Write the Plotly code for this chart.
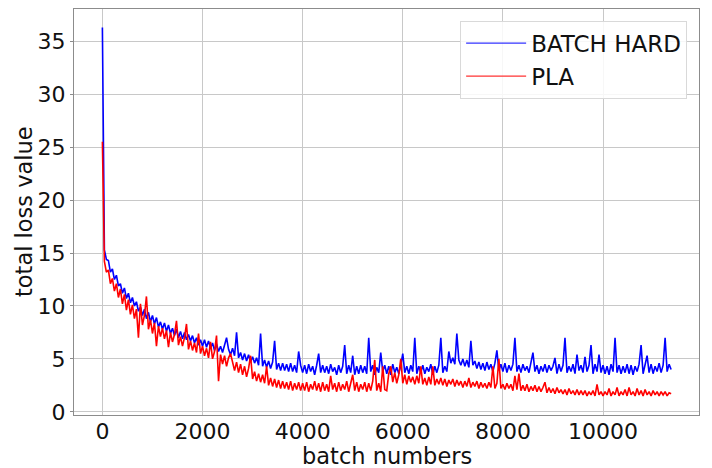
import plotly.graph_objects as go

# batch index sampled every 40 batches
batch = list(range(0, 11361, 40))

batch_hard = [
    36.3, 15.3, 14.4, 14.3, 13.2, 13.5, 12.5, 12.9, 11.9, 12.1,
    11.2, 11.7, 10.7, 11.2, 10.3, 10.8, 10.0, 10.4, 9.5, 9.9,
    9.1, 9.7, 8.8, 9.4, 8.5, 9.1, 8.3, 8.9, 8.0, 8.5,
    7.8, 8.4, 7.6, 8.2, 7.4, 7.9, 7.2, 7.8, 7.0, 7.6,
    6.9, 7.5, 6.8, 7.3, 6.7, 7.2, 6.5, 7.0, 6.3, 6.8,
    6.2, 6.8, 6.1, 6.7, 6.0, 6.5, 5.8, 6.4, 5.7, 6.2,
    5.6, 6.2, 7.0, 5.9, 5.4, 6.0, 5.3, 7.5, 5.1, 5.6,
    4.9, 5.5, 4.8, 5.4, 4.7, 5.2, 4.6, 5.1, 4.4, 7.4,
    4.3, 4.9, 4.2, 4.8, 4.1, 4.7, 6.7, 4.0, 4.6, 3.9,
    4.6, 3.9, 4.5, 3.8, 4.6, 3.8, 4.4, 3.7, 5.7, 4.4,
    3.7, 4.4, 3.6, 4.5, 3.8, 4.3, 3.5, 4.4, 5.5, 3.7,
    4.4, 3.7, 4.3, 3.6, 4.5, 3.8, 4.2, 3.5, 4.4, 3.7,
    4.3, 6.3, 3.6, 4.4, 3.7, 5.3, 3.5, 4.3, 3.6, 4.4,
    3.7, 4.3, 3.6, 7.0, 3.8, 4.4, 3.5, 4.2, 3.7, 5.6,
    3.8, 4.4, 3.6, 4.3, 3.5, 4.5, 3.7, 4.2, 3.6, 4.4,
    5.5, 3.7, 4.3, 3.6, 4.4, 3.8, 7.0, 3.6, 4.3, 3.7,
    4.4, 3.6, 4.2, 3.8, 4.5, 3.5, 4.3, 3.7, 4.4, 7.0,
    3.7, 4.3, 3.8, 5.7, 4.6, 5.1, 4.5, 7.4, 4.9, 4.4,
    5.0, 4.3, 4.9, 4.2, 6.7, 4.4, 4.8, 4.1, 4.7, 4.0,
    4.6, 3.9, 4.7, 4.0, 4.5, 3.8, 4.6, 5.8, 3.9, 4.5,
    3.8, 4.6, 3.7, 4.4, 3.9, 4.5, 7.0, 3.8, 4.4, 3.7,
    4.5, 3.9, 4.3, 3.7, 4.6, 5.6, 3.8, 4.4, 3.6, 4.3,
    3.8, 4.5, 3.7, 4.4, 3.9, 4.3, 5.1, 3.6, 4.5, 3.8,
    4.4, 7.0, 3.7, 4.3, 3.8, 4.5, 3.6, 5.4, 3.9, 4.4,
    3.7, 5.2, 3.8, 4.4, 6.3, 3.6, 4.5, 3.8, 5.4, 3.7,
    4.4, 3.6, 4.3, 3.5, 4.5, 3.8, 7.0, 3.7, 4.4, 3.6,
    4.3, 3.7, 4.5, 3.6, 4.4, 3.5, 4.3, 3.8, 4.5, 6.3,
    3.6, 4.4, 5.3, 3.7, 4.5, 3.6, 4.3, 3.8, 4.6, 3.7,
    4.4, 7.0, 3.8, 4.5, 4.0,
]

pla = [
    25.5, 14.2, 13.2, 13.4, 12.1, 12.6, 11.4, 12.1, 10.8, 11.6,
    10.2, 11.1, 9.6, 10.6, 9.2, 10.1, 8.8, 9.7, 7.0, 10.2,
    8.2, 9.1, 10.9, 7.8, 8.7, 7.4, 8.4, 6.2, 8.1, 7.1,
    7.9, 6.9, 7.7, 6.1, 7.5, 6.6, 7.3, 8.6, 6.3, 7.1,
    6.2, 7.0, 8.3, 5.9, 6.7, 5.8, 6.5, 5.6, 7.4, 5.5,
    6.2, 5.3, 6.0, 5.1, 6.6, 5.0, 5.7, 7.2, 2.9, 5.4,
    4.5, 5.3, 4.3, 5.1, 5.5, 4.7, 3.9, 4.7, 3.7, 4.5,
    3.5, 4.3, 3.3, 4.1, 5.3, 3.1, 3.8, 2.9, 3.6, 2.8,
    3.5, 2.7, 4.3, 2.5, 3.2, 2.4, 3.1, 2.3, 3.0, 2.2,
    2.9, 2.2, 2.8, 2.1, 2.9, 2.0, 2.7, 2.1, 2.8, 2.0,
    2.7, 2.0, 2.8, 1.9, 2.6, 2.1, 2.9, 2.0, 2.7, 1.9,
    2.8, 2.0, 2.6, 1.9, 3.4, 2.1, 2.7, 1.9, 2.8, 2.0,
    2.6, 2.1, 2.9, 1.9, 2.7, 3.5, 2.0, 2.8, 1.9, 2.6,
    2.1, 2.8, 1.9, 2.7, 2.0, 2.9, 4.9, 2.0, 2.7, 1.9,
    4.3, 2.1, 2.0, 3.6, 4.3, 2.8, 3.7, 2.7, 3.5, 5.0,
    2.7, 3.5, 2.6, 3.4, 2.8, 3.3, 2.6, 3.4, 2.7, 4.3,
    2.6, 3.2, 2.5, 3.3, 2.6, 4.3, 2.5, 3.1, 2.6, 3.2,
    2.5, 3.1, 2.4, 3.0, 2.6, 3.1, 2.4, 3.0, 2.5, 2.9,
    2.3, 2.9, 2.4, 3.2, 2.3, 2.8, 2.4, 2.9, 2.2, 2.8,
    2.3, 2.7, 2.2, 2.8, 2.3, 4.3, 2.2, 2.7, 5.0, 2.2,
    2.6, 2.1, 2.7, 2.2, 2.6, 2.0, 3.4, 2.1, 3.6, 2.0,
    2.5, 2.0, 2.6, 1.9, 2.4, 2.0, 2.5, 1.9, 2.4, 1.9,
    2.3, 2.8, 1.8, 2.3, 1.8, 2.2, 1.7, 2.3, 1.8, 2.1,
    1.7, 2.1, 1.6, 2.2, 1.7, 2.0, 1.6, 2.1, 1.6, 2.0,
    1.6, 2.0, 1.5, 1.9, 1.6, 2.0, 1.5, 2.6, 1.6, 1.9,
    1.5, 1.9, 1.6, 2.2, 1.5, 1.9, 1.6, 2.3, 1.5, 1.9,
    1.6, 2.1, 1.5, 2.3, 1.6, 1.9, 1.5, 2.2, 1.6, 2.0,
    1.5, 2.1, 1.6, 1.9, 1.5, 2.0, 1.6, 1.9, 1.5, 1.9,
    1.6, 1.9, 1.5, 1.8, 1.7,
]

x_ticks = [0, 2000, 4000, 6000, 8000, 10000]
y_ticks = [0, 5, 10, 15, 20, 25, 30, 35]

FONT = "DejaVu Sans"

fig = go.Figure()
fig.add_trace(go.Scatter(x=batch, y=batch_hard, mode="lines", name="BATCH HARD",
                         line=dict(color="#0000ff", width=1.6), showlegend=False))
fig.add_trace(go.Scatter(x=batch, y=pla, mode="lines", name="PLA",
                         line=dict(color="#ff0000", width=1.6), showlegend=False))
# legend entries (thin sample lines like the reference)
fig.add_trace(go.Scatter(x=[None], y=[None], mode="lines", name="BATCH HARD",
                         line=dict(color="#3333ff", width=1.2)))
fig.add_trace(go.Scatter(x=[None], y=[None], mode="lines", name="PLA",
                         line=dict(color="#ff3333", width=1.2)))

axis_common = dict(
    showgrid=True, gridcolor="#c8c8c8", gridwidth=1,
    showline=True, linecolor="#8c8c8c", linewidth=1, mirror=True,
    zeroline=False,
    tickfont=dict(family=FONT, size=22, color="#111111"),
)

fig.update_xaxes(range=[-567, 11917], tickvals=x_ticks,
                 ticktext=[str(v) for v in x_ticks], ticks="",
                 ticklabelstandoff=-3, **axis_common)
fig.update_yaxes(range=[-0.3, 38.05], tickvals=y_ticks,
                 ticktext=[str(v) for v in y_ticks], ticks="outside",
                 ticklen=3, tickcolor="#8c8c8c", **axis_common)

fig.update_layout(
    width=712, height=468,
    margin=dict(l=74, r=13, t=9, b=53, pad=0),
    paper_bgcolor="white", plot_bgcolor="white",
    font=dict(family=FONT, size=22, color="#111111"),
    legend=dict(x=0.981, y=0.971, xanchor="right", yanchor="top",
                bgcolor="rgba(255,255,255,0.85)", bordercolor="#d9d9d9",
                borderwidth=1, itemwidth=60, tracegroupgap=0,
                font=dict(family=FONT, size=23)),
    annotations=[
        dict(text="batch numbers", xref="paper", yref="paper", x=0.5, y=0,
             xanchor="center", yanchor="middle", yshift=-41, showarrow=False,
             font=dict(family=FONT, size=22.5, color="#111111")),
        dict(text="total loss value", xref="paper", yref="paper", x=0, y=0.5,
             xanchor="center", yanchor="middle", xshift=-50, textangle=-90,
             showarrow=False, font=dict(family=FONT, size=22.5, color="#111111")),
    ],
)

fig.write_html("out.html", config={"displayModeBar": False},
               post_script="document.body.style.margin='0';document.body.style.overflow='hidden';")
